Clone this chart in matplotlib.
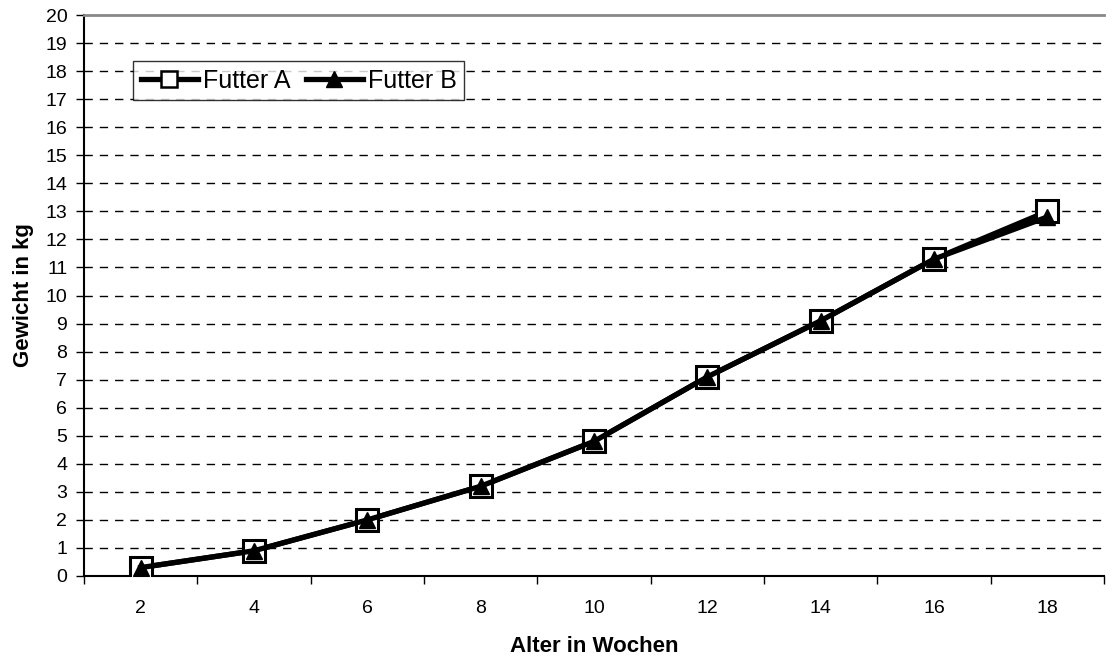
import matplotlib
matplotlib.use("Agg")
import matplotlib.pyplot as plt

weeks = ["2", "4", "6", "8", "10", "12", "14", "16", "18"]
futter_a = [0.3, 0.9, 2.0, 3.2, 4.8, 7.1, 9.1, 11.3, 13.0]
futter_b = [0.3, 0.9, 2.0, 3.2, 4.8, 7.1, 9.1, 11.3, 12.8]
y_ticks = list(range(0, 21))

plt.rcParams['font.family'] = ['Liberation Sans', 'DejaVu Sans']

fig = plt.figure(figsize=(11.12, 6.61), dpi=100)
ax = fig.add_axes([84/1112, 85/661, (1104-84)/1112, (576-15)/661])

x = list(range(1, len(weeks) + 1))
ax.plot(x, futter_a, color='black', lw=3.8, marker='s', markersize=16,
        markerfacecolor='white', markeredgecolor='black', markeredgewidth=2.2,
        label='Futter A', zorder=3)
ax.plot(x, futter_b, color='black', lw=3.8, marker='^', markersize=11,
        markerfacecolor='black', markeredgecolor='black', label='Futter B', zorder=4)

ax.set_xlim(0.5, len(weeks) + 0.5)
ax.set_ylim(0, 20)
ax.set_yticks(y_ticks)
ax.set_yticklabels([str(v) for v in y_ticks], fontsize=14)

ax.set_xticks([i + 0.5 for i in range(0, len(weeks) + 1)])
ax.set_xticklabels([])
ax.set_xticks(x, minor=True)
ax.set_xticklabels(weeks, minor=True, fontsize=14)
ax.tick_params(axis='x', which='minor', length=0, pad=17)
ax.tick_params(axis='x', which='major', direction='out', length=6, width=1, color='black')
ax.tick_params(axis='y', direction='out', length=6, width=1, pad=6)

for v in y_ticks[1:-1]:
    ax.axhline(v, color='black', lw=1, ls=(0, (6, 5)), zorder=1)

ax.spines['right'].set_visible(False)
ax.spines['top'].set_color('#888888')
ax.spines['top'].set_linewidth(2)
ax.spines['left'].set_color('black')
ax.spines['left'].set_linewidth(1.5)
ax.spines['bottom'].set_color('black')
ax.spines['bottom'].set_linewidth(1.5)

ax.set_xlabel('Alter in Wochen', fontsize=16, fontweight='bold', labelpad=14)
ax.set_ylabel('Gewicht in kg', fontsize=16, fontweight='bold', labelpad=8)

leg = ax.legend(loc='upper left', bbox_to_anchor=((133-84)/1020, (576-61)/561),
                ncol=2, fontsize=18, frameon=True, fancybox=False,
                edgecolor='black', handlelength=2.3, handletextpad=0.2,
                columnspacing=0.6, borderpad=0.3, borderaxespad=0)
leg.get_frame().set_linewidth(1)
for h in leg.legend_handles:
    h.set_linewidth(3.8)
leg.legend_handles[0].set_markersize(11)
leg.legend_handles[0].set_markeredgewidth(1.8)
leg.legend_handles[1].set_markersize(11)

fig.savefig('out.png', dpi=100, facecolor='white')
